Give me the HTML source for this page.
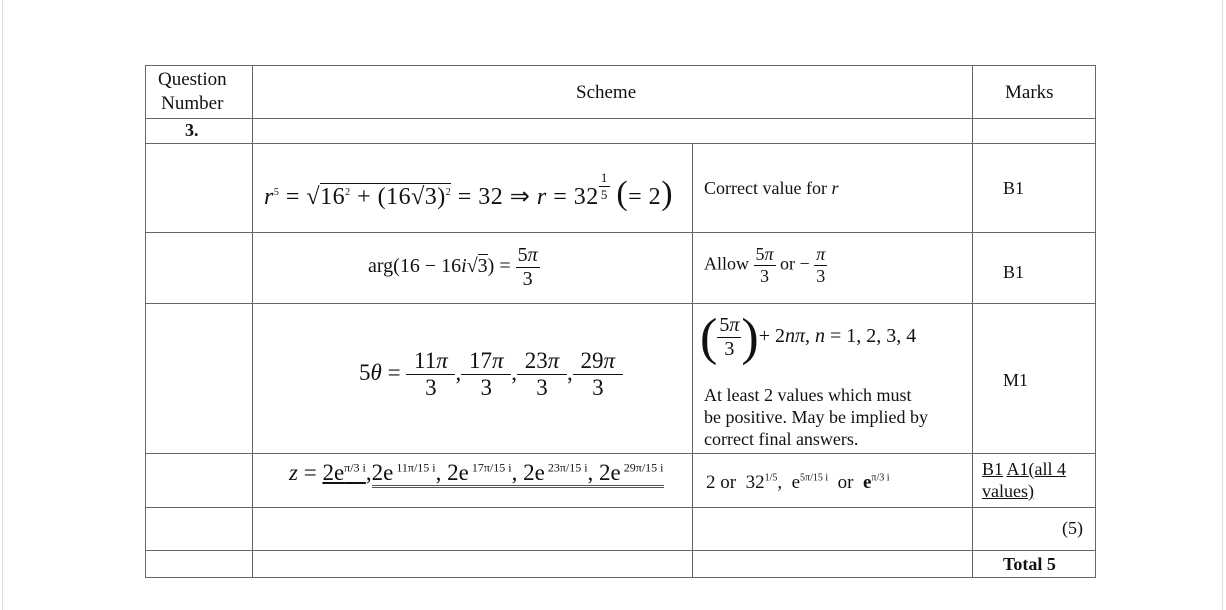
<!DOCTYPE html>
<html><head><meta charset="utf-8"><style>
body{margin:0;width:1226px;height:610px;background:#fff;position:relative;overflow:hidden;font-family:"Liberation Serif",serif;color:#111}
.h{position:absolute;height:1px;background:#666;left:145px;width:951px}
.v{position:absolute;width:1px;background:#666}
.t{position:absolute;white-space:nowrap;font-size:19px}
.f{display:inline-block;vertical-align:middle;text-align:center}
.f>span{display:block;padding:0 2px}
.f>span:first-child{border-bottom:1px solid #111}
i{font-style:italic}
sup{font-size:10px}
</style></head><body>
<div style="position:absolute;left:2px;top:0;width:1px;height:610px;background:#ddd"></div>
<div style="position:absolute;left:1222px;top:0;width:1px;height:610px;background:#ddd"></div>
<div class="h" style="top:65px"></div><div class="h" style="top:118px"></div><div class="h" style="top:143px"></div>
<div class="h" style="top:232px"></div><div class="h" style="top:303px"></div><div class="h" style="top:453px"></div>
<div class="h" style="top:507px"></div><div class="h" style="top:550px"></div><div class="h" style="top:577px"></div>
<div class="v" style="left:145px;top:65px;height:513px"></div>
<div class="v" style="left:252px;top:65px;height:513px"></div>
<div class="v" style="left:972px;top:65px;height:513px"></div>
<div class="v" style="left:1095px;top:65px;height:513px"></div>
<div class="v" style="left:692px;top:143px;height:435px"></div>

<div class="t" style="left:158px;top:68px;line-height:24px;text-align:center">Question<br>Number</div>
<div class="t" style="left:576px;top:82px">Scheme</div>
<div class="t" style="left:1005px;top:82px">Marks</div>
<div class="t" style="left:185px;top:120px;font-weight:bold;font-size:18px">3.</div>

<div class="t" style="left:264px;top:170px;font-size:24px;letter-spacing:0.5px"><i>r</i><sup>5</sup> = √<span style="border-top:1px solid #111">16<sup>2</sup> + (16√<span style="border-top:1px solid #111">3</span>)<sup>2</sup></span> = 32 ⇒ <i>r</i> = 32<span class="f" style="font-size:13px;vertical-align:30%"><span>1</span><span>5</span></span> <span style="font-size:34px">(</span>= 2<span style="font-size:34px">)</span></div>
<div class="t" style="left:704px;top:178px;font-size:18px">Correct value for <i>r</i></div>
<div class="t" style="left:1003px;top:178px;font-size:18px">B1</div>

<div class="t" style="left:368px;top:244px;font-size:20px">arg(16 − 16<i>i</i>√<span style="border-top:1px solid #111">3</span>) = <span class="f"><span>5<i>π</i></span><span>3</span></span></div>
<div class="t" style="left:704px;top:244px;font-size:18px">Allow <span class="f"><span>5<i>π</i></span><span>3</span></span> or − <span class="f"><span><i>π</i></span><span>3</span></span></div>
<div class="t" style="left:1003px;top:262px;font-size:18px">B1</div>

<div class="t" style="left:359px;top:348px;font-size:23px">5<i>θ</i> = <span class="f"><span>&nbsp;11<i>π</i>&nbsp;</span><span>3</span></span>,<span class="f"><span>&nbsp;17<i>π</i>&nbsp;</span><span>3</span></span>,<span class="f"><span>&nbsp;23<i>π</i>&nbsp;</span><span>3</span></span>,<span class="f"><span>&nbsp;29<i>π</i>&nbsp;</span><span>3</span></span></div>
<div class="t" style="left:700px;top:308px;font-size:20px"><span style="font-size:52px;vertical-align:middle;font-weight:100">(</span><span class="f"><span>5<i>π</i></span><span>3</span></span><span style="font-size:52px;vertical-align:middle">)</span>+ 2<i>nπ</i>, <i>n</i> = 1, 2, 3, 4</div>
<div class="t" style="left:704px;top:384px;font-size:18px;line-height:22px">At least 2 values which must<br>be positive. May be implied by<br>correct final answers.</div>
<div class="t" style="left:1003px;top:370px;font-size:18px">M1</div>

<div class="t" style="left:289px;top:460px;font-size:23px"><i>z</i> = <u>2e<sup style="font-size:12px">π/3 i</sup></u>,<span style="border-bottom:3px double #555">2e<sup style="font-size:12px">&nbsp;11π/15 i</sup>, 2e<sup style="font-size:12px">&nbsp;17π/15 i</sup>, 2e<sup style="font-size:12px">&nbsp;23π/15 i</sup>, 2e<sup style="font-size:12px">&nbsp;29π/15 i</sup></span></div>
<div class="t" style="left:706px;top:472px;font-size:19px">2 or &nbsp;32<sup>1/5</sup>, &nbsp;e<sup>5π/15 i</sup> &nbsp;or &nbsp;<b>e</b><sup>π/3 i</sup></div>
<div class="t" style="left:982px;top:458px;font-size:18px;line-height:22px"><u>B1</u> <u>A1(all 4</u><br><u>values)</u></div>
<div class="t" style="left:1062px;top:518px;font-size:18px">(5)</div>
<div class="t" style="left:1003px;top:554px;font-size:18px;font-weight:bold">Total 5</div>
</body></html>
